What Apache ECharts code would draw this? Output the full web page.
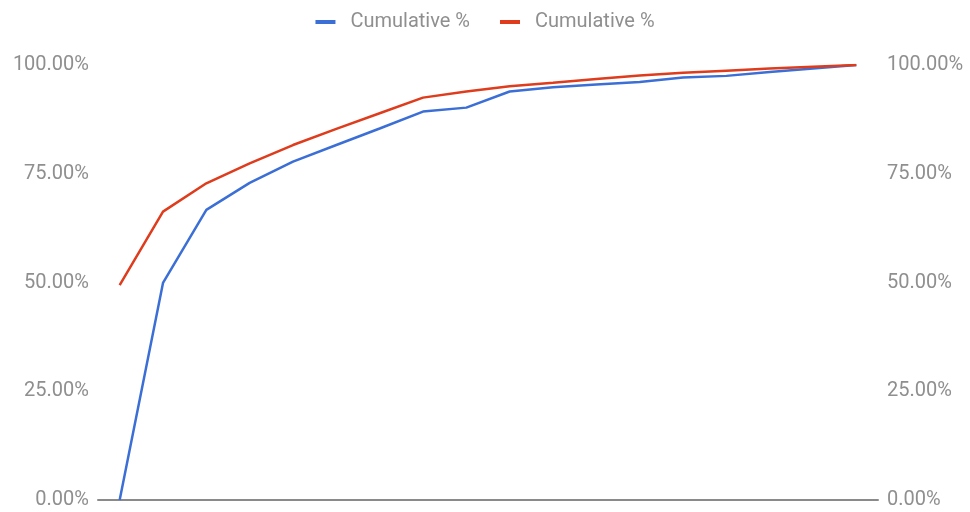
<!DOCTYPE html>
<html>
<head>
<meta charset="utf-8">
<script src="https://cdn.jsdelivr.net/npm/echarts@6/dist/echarts.min.js"></script>
<style>
html,body{margin:0;padding:0;background:#fff;}
#chart{width:970px;height:512px;}
</style>
</head>
<body>
<div id="chart"></div>
<script>
const categories = ['1','2','3','4','5','6','7','8','9','10','11','12','13','14','15','16','17','18'];
const blueName = 'Cumulative %';
const redName = 'Cumulative %';
const blueValues = [0, 49.9, 66.7, 72.9, 77.8, 81.6, 85.4, 89.3, 90.2, 93.9, 94.9, 95.5, 96.1, 97.1, 97.5, 98.4, 99.2, 100];
const redValues = [49.4, 66.3, 72.8, 77.4, 81.6, 85.3, 88.9, 92.5, 93.9, 95.1, 95.9, 96.8, 97.6, 98.2, 98.7, 99.2, 99.6, 100];
const yTicks = [0, 25, 50, 75, 100];

const chart = echarts.init(document.getElementById('chart'), null, {renderer: 'canvas'});
const labelStyle = {color: '#8f8f8f', fontFamily: 'Roboto', fontSize: 20};
const yAxisBase = (pos) => ({
  type: 'value',
  position: pos,
  min: yTicks[0],
  max: yTicks[yTicks.length - 1],
  interval: yTicks[1] - yTicks[0],
  axisLine: {show: false},
  axisTick: {show: false},
  splitLine: {show: false},
  axisLabel: Object.assign({}, labelStyle, {
    margin: 9,
    formatter: v => v.toFixed(2) + '%'
  })
});
chart.setOption({
  animation: false,
  legend: {
    top: 7,
    left: 'center',
    itemWidth: 20,
    itemHeight: 4,
    itemGap: 30,
    icon: 'rect',
    textStyle: {color: '#8f8f8f', fontFamily: 'Roboto', fontSize: 20, padding: [0, 0, 0, 10]},
    data: [
      {name: 'blue', icon: 'rect'},
      {name: 'red', icon: 'rect'}
    ],
    formatter: n => n === 'blue' ? blueName : redName
  },
  grid: {left: 98, right: 92, top: 65, bottom: 12, containLabel: false},
  xAxis: {
    type: 'category',
    data: categories,
    boundaryGap: true,
    axisLine: {show: true, lineStyle: {color: '#8a8a8a', width: 2}},
    axisTick: {show: false},
    axisLabel: {show: false},
    splitLine: {show: false}
  },
  yAxis: [yAxisBase('left'), yAxisBase('right')],
  series: [
    {
      name: 'blue',
      type: 'line',
      data: blueValues,
      yAxisIndex: 0,
      symbol: 'none',
      color: '#3b6fd6',
      lineStyle: {width: 2.5, color: '#3b6fd6'},
      z: 2
    },
    {
      name: 'red',
      type: 'line',
      data: redValues,
      yAxisIndex: 1,
      symbol: 'none',
      color: '#de3c1c',
      lineStyle: {width: 2.5, color: '#de3c1c'},
      z: 3
    }
  ]
});
</script>
</body>
</html>
